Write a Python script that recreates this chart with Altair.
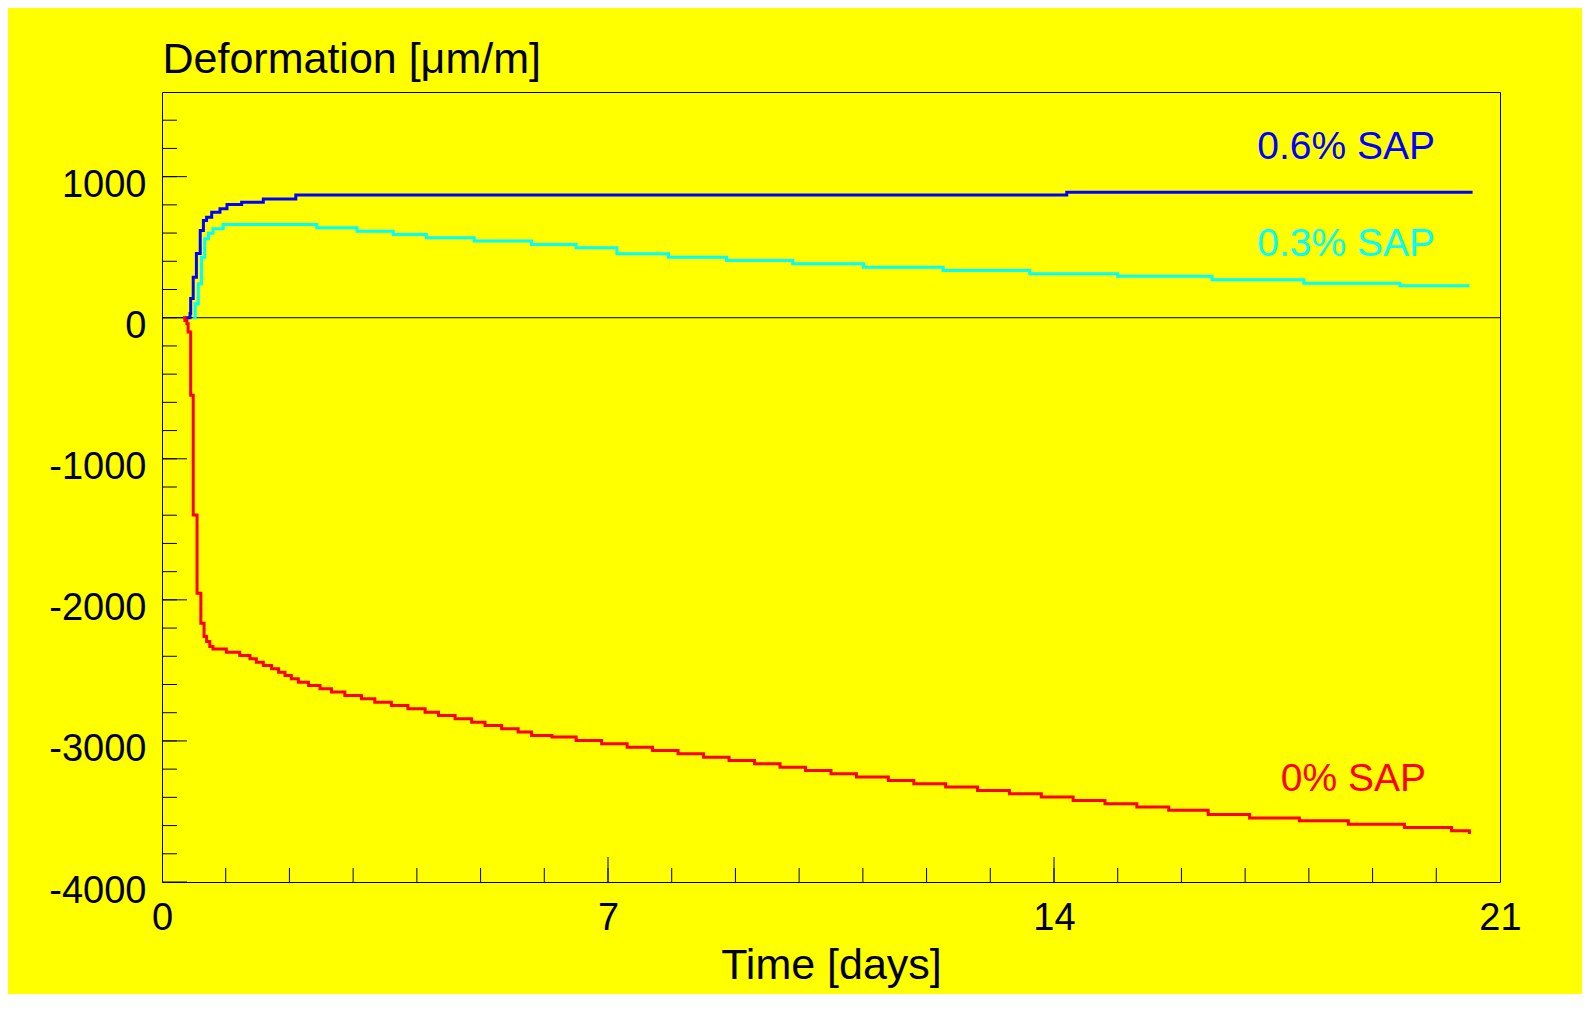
import altair as alt
import pandas as pd

# ---------------- data ----------------
# 0.6% SAP  (day where the value changes, new value in µm/m)
blue_days = [0.36, 0.44, 0.45, 0.49, 0.54, 0.60, 0.65, 0.70, 0.78, 0.91, 1.02, 1.25, 1.59, 2.10, 14.2, 20.57]
blue_vals = [0, 30, 137, 287, 455, 618, 689, 712, 747, 773, 802, 818, 842, 870, 890, 890]

# 0.3% SAP
cyan_days = [0.49, 0.52, 0.57, 0.62, 0.67, 0.73, 0.80, 0.96, 2.43, 3.06, 3.63, 4.15, 4.9, 5.8, 6.5,
             7.14, 7.95, 8.86, 9.90, 11.01, 12.26, 13.62, 15.0, 16.48, 17.92, 19.43, 20.52]
cyan_vals = [0, 99, 240, 429, 559, 599, 630, 660, 637, 613, 590, 566, 543, 519, 496,
             453, 429, 406, 382, 358, 335, 311, 294, 269, 245, 226, 226]

# 0% SAP
red_days = [0.33, 0.36, 0.39, 0.41, 0.45, 0.49, 0.55, 0.61, 0.66, 0.70, 0.75, 0.80,
            1.01, 1.22, 1.38, 1.48, 1.59, 1.72, 1.83, 1.93, 2.03, 2.14, 2.30, 2.48, 2.66,
            2.87, 3.13, 3.34, 3.60, 3.86, 4.13, 4.34, 4.60, 4.86, 5.07, 5.33, 5.59, 5.80,
            6.12, 6.5, 6.9, 7.3, 7.7, 8.1, 8.5, 8.9, 9.3, 9.7, 10.1, 10.5, 10.9, 11.4, 11.8,
            12.3, 12.8, 13.3, 13.8, 14.3, 14.8, 15.3, 15.8, 16.42, 17.07, 17.85, 18.62,
            19.50, 20.24, 20.52]
red_vals = [0, -19, -42, -102, -550, -1399, -1953, -2166, -2260, -2296, -2331, -2348,
            -2371, -2395, -2418, -2442, -2466, -2489, -2513, -2536, -2560, -2584, -2607, -2631, -2654,
            -2678, -2701, -2725, -2749, -2772, -2796, -2820, -2843, -2867, -2890, -2914, -2937, -2961,
            -2973, -2997, -3020, -3044, -3068, -3091, -3115, -3138, -3162, -3186, -3209, -3233, -3256,
            -3280, -3304, -3327, -3351, -3374, -3398, -3422, -3445, -3469, -3492, -3521, -3546, -3565,
            -3591, -3614, -3636, -3659, -3659]

series_names = ["0.6% SAP", "0.3% SAP", "0% SAP"]
series_colors = ["#0000FF", "#00FFFF", "#FF0000"]

# series labels: anchor (day, value), right aligned
label_days = [19.98, 19.98, 19.84]
label_vals = [1125, 434, -3357]

x_tick_labels = [0, 7, 14, 21]
x_major_ticks = [7, 14]
x_minor_ticks = list(range(1, 21))
y_tick_labels = [-4000, -3000, -2000, -1000, 0, 1000]
y_minor_ticks = list(range(-3800, 1600, 200))

# ---------------- build tables ----------------
rows = []
for name, days, vals in zip(series_names, [blue_days, cyan_days, red_days],
                            [blue_vals, cyan_vals, red_vals]):
    for d, v in zip(days, vals):
        rows.append({"series": name, "day": d, "value": v})
lines_df = pd.DataFrame(rows)

labels_df = pd.DataFrame({"series": series_names, "day": label_days, "value": label_vals,
                          "color": series_colors})

FONT = "Liberation Sans"
W, H = 1338, 790

x_scale = alt.Scale(domain=[0, 21], nice=False, zero=False)
y_scale = alt.Scale(domain=[-4000, 1600], nice=False, zero=False)

x_axis = alt.Axis(values=x_tick_labels, ticks=False, domain=False, grid=False,
                  labelFont=FONT, labelFontSize=38, labelColor="black", labelPadding=47,
                  labelBaseline="alphabetic", labelFlush=False, labelOverlap=False, labelBound=False,
                  title="Time [days]", titleFont=FONT, titleFontSize=43, titleFontWeight="normal",
                  titleColor="black", titleX=W / 2, titleY=96, titleAlign="center",
                  titleBaseline="alphabetic", titleAnchor="middle")
y_axis = alt.Axis(values=y_tick_labels, ticks=False, domain=False, grid=False,
                  labelExpr="'' + datum.value",
                  labelFont=FONT, labelFontSize=38, labelColor="black", labelPadding=16,
                  labelBaseline="alphabetic", labelOffset=20, labelFlush=False, labelOverlap=False,
                  labelBound=False,
                  title="Deformation [μm/m]", titleFont=FONT, titleFontSize=43,
                  titleFontWeight="normal", titleColor="black", titleAngle=0, titleX=0, titleY=-20,
                  titleAlign="left", titleBaseline="alphabetic")


def X():
    return alt.X("day:Q", scale=x_scale, axis=x_axis)


def Y():
    return alt.Y("value:Q", scale=y_scale, axis=y_axis)


lines = alt.Chart(lines_df).mark_line(strokeWidth=3, interpolate="step-after").encode(
    x=X(), y=Y(),
    color=alt.Color("series:N", scale=alt.Scale(domain=series_names, range=series_colors), legend=None),
    detail="series:N",
)

zero_line = alt.Chart(pd.DataFrame({"value": [0]})).mark_rule(color="black", strokeWidth=1).encode(y=Y())

y_major = alt.Chart(pd.DataFrame({"value": y_tick_labels})).mark_rule(color="black", strokeWidth=1).encode(
    y=Y(), x=alt.value(0), x2=alt.value(25))
y_minor = alt.Chart(pd.DataFrame({"value": y_minor_ticks})).mark_rule(color="black", strokeWidth=1).encode(
    y=Y(), x=alt.value(0), x2=alt.value(15))
x_minor = alt.Chart(pd.DataFrame({"day": x_minor_ticks})).mark_rule(color="black", strokeWidth=1).encode(
    x=X(), y=alt.value(H), y2=alt.value(H - 14))
x_major = alt.Chart(pd.DataFrame({"day": x_major_ticks})).mark_rule(color="black", strokeWidth=1).encode(
    x=X(), y=alt.value(H), y2=alt.value(H - 25))

texts = alt.Chart(labels_df).mark_text(align="right", baseline="alphabetic", font=FONT, fontSize=39).encode(
    x=X(), y=Y(), text="series:N", color=alt.Color("color:N", scale=None))

chart = alt.layer(y_minor, y_major, x_minor, x_major, zero_line, lines, texts).properties(
    width=W, height=H,
    background="#FFFF00",
    padding={"left": 154, "top": 84, "right": 82, "bottom": 112},
    autosize=alt.AutoSizeParams(type="none"),
).configure_view(stroke="black", strokeWidth=1, fill="#FFFF00")

chart.save("out.html", embed_options={"renderer": "svg", "actions": False})
